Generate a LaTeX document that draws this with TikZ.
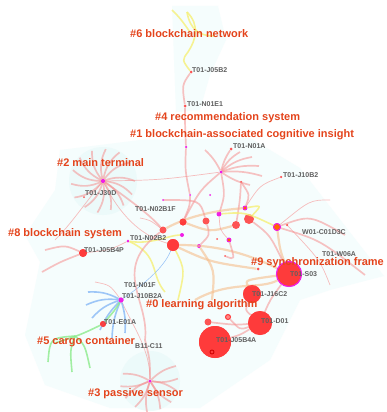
\documentclass[tikz,border=0pt]{standalone}
\usepackage{fontspec}
\setmainfont{Liberation Sans}
\definecolor{labred}{RGB}{228,68,28}
\definecolor{labgray}{RGB}{95,95,95}
\definecolor{nodered}{RGB}{255,55,55}
\definecolor{mag}{RGB}{240,30,230}
\definecolor{lpink}{RGB}{245,145,145}
\definecolor{lorange}{RGB}{245,190,140}
\definecolor{lyellow}{RGB}{245,240,120}
\definecolor{lblue}{RGB}{120,175,245}
\definecolor{lgreen}{RGB}{140,235,140}
\definecolor{bgcyan}{RGB}{245,253,253}
\definecolor{bgcyan2}{RGB}{236,250,250}
\begin{document}
\begin{tikzpicture}[x=1pt,y=-1pt,
  clab/.style={text=labred,font=\bfseries\fontsize{11}{12}\selectfont,anchor=west,inner sep=0},
  nlab/.style={text=labgray,font=\bfseries\fontsize{7}{8}\selectfont,anchor=west,inner sep=0},
  rc/.style={circle,fill=nodered,fill opacity=0.85,inner sep=0,minimum size=#1},
  rc/.default=4pt,
  mg/.style={circle,fill=mag,inner sep=0,minimum size=#1},
  mg/.default=3pt,
  ring/.style={circle,draw=mag,line width=0.9pt,fill=orange!80!red,inner sep=0,minimum size=#1},
  ring/.default=5pt,
  pk/.style={draw=lpink,line width=1.7pt,opacity=0.55},
  pkt/.style={draw=lpink,line width=0.7pt,opacity=0.6},
  og/.style={draw=lorange,line width=2.2pt,opacity=0.6},
  yl/.style={draw=lyellow,line width=1.6pt,opacity=0.8},
  bl/.style={draw=lblue,line width=1.6pt,opacity=0.7},
  gr/.style={draw=lgreen,line width=1.6pt,opacity=0.8},
  hull/.style={fill=bgcyan,draw=none}
]
\fill[white] (0,0) rectangle (386,412);
\useasboundingbox (0,0) rectangle (386,412);

% cluster hulls
\fill[hull] (172,6) -- (218,6) -- (226,40) -- (210,75) -- (200,110) -- (176,112) -- (174,60) -- cycle;
\fill[hull] (60,150) -- (140,140) -- (250,138) -- (300,168) -- (384,276) -- (330,290) -- (300,300)
  -- (270,360) -- (200,408) -- (110,408) -- (45,385) -- (25,335) -- (40,262) -- (25,235) -- (55,190) -- cycle;
\fill[bgcyan2] (103,181) circle (34pt);
\fill[bgcyan2] (150,381) circle (30pt);

% ---------- coordinates (free ends)
\coordinate (top1) at (187,12);
\coordinate (top2) at (214,36);
\coordinate (top3) at (172,10);

% ---------- nodes
\node[rc=3pt] (j05b2) at (191,72) {};
\node[rc=3pt] (n01e1) at (185,106) {};
\node[mg=2.5pt] (m1) at (186,147) {};
\node[rc=3pt] (n01a) at (231,149) {};
\node[mg=3pt] (hubA) at (221,172) {};
\node[rc=2.5pt] (j10b2) at (281,177) {};
\node[mg=4pt] (hub2) at (103,181) {};
\node[rc=2pt] (j30d) at (84,197) {};
\node[mg=2pt] (m2) at (163,200) {};
\node[mg=2pt] (m3) at (190,195) {};
\node[rc=2.5pt] (r1) at (241,182) {};
\node[ring=4pt] (m4) at (245,208) {};
\node[mg=5pt] (m5) at (219,214) {};
\node[rc=7pt] (c1) at (183,222) {};
\node[rc=7pt] (c2) at (206,221) {};
\node[rc=7pt] (c3) at (163,230) {};
\node[rc=8pt] (c4) at (236,225) {};
\node[rc=10pt] (c5) at (249,219) {};
\node[ring=7pt] (w01) at (277,227) {};
\node[rc=2.5pt] (r2) at (287,225) {};
\node[mg=4pt] (m6) at (182,235) {};
\node[rc=12pt] (c6) at (173,245) {};
\node[mg=3pt] (n02b2) at (128,241) {};
\node[mg=4pt] (m7) at (199,246) {};
\node[ring=4pt] (m8) at (229,240) {};
\node[rc=2pt] (r3) at (217,239) {};
\node[rc=2pt] (r4) at (225,256) {};
\node[rc=3pt] (r5) at (258,269) {};
\node[rc=8pt] (j05b4p) at (83,253) {};
\node[circle,fill=nodered,fill opacity=0.85,draw=mag,line width=1pt,inner sep=0,minimum size=25pt] (s03) at (289,274) {};
\node[rc=18pt] (j16c2) at (252,294) {};
\node[mg=5pt] (j10b2a) at (121,300) {};
\node[rc=6pt] (e01a) at (103,324) {};
\node[rc=24pt] (d01) at (260,323) {};
\node[rc=7pt] (r6) at (208,322) {};
\node[circle,draw=nodered,line width=1pt,fill=nodered!60,inner sep=0,minimum size=5pt] (r7) at (228,317) {};
\node[rc=32pt] (j05b4a) at (215,342) {};
\node[circle,draw=red!80!black,line width=0.8pt,inner sep=0,minimum size=4pt] (r8) at (212,352) {};
\node[mg=3pt] (hub3) at (150,381) {};
\node[mg=2pt] (m9) at (210,195) {};

% ---------- #6 yellow
\draw[yl] (top1) .. controls (200,25) and (196,40) .. (188,52) .. controls (182,60) .. (j05b2);
\draw[yl] (top1) .. controls (190,30) and (200,36) .. (top2);
\draw[yl] (top3) .. controls (180,18) .. (190,32);
% top pink spine
\draw[pk] (j05b2) .. controls (182,85) .. (n01e1);
\draw[pk] (n01e1) .. controls (185,125) .. (m1);
\draw[pk] (m1) .. controls (185,170) .. (m3);
\draw[pk] (m3) .. controls (190,205) .. (c1);
% hub A spokes
\foreach \e/\b in {n01a/10, {240,152}/15, {252,157}/15, {259,166}/12, {262,176}/10, {205,150}/-10, {250,185}/-10}
  \draw[pk] (hubA) to[bend left=\b] (\e);
\draw[pk] (hubA) .. controls (200,190) .. (c1);
\draw[pkt] (hubA) .. controls (160,180) .. (hub2);
% J10B2
\draw[pkt] (j10b2) .. controls (260,185) .. (m4);
\draw[pk] (r1) .. controls (250,195) .. (m4);
% hub #2 spokes
\foreach \a/\l/\b in {0/32/20, 25/32/20, 50/32/20, 75/30/20, 100/32/20, 125/32/20, 150/33/20, 175/32/20, 200/32/20, 225/33/20, 250/32/20, 275/32/20, 300/33/20, 325/32/20}
  \draw[pk] (hub2) to[bend left=\b] ++(\a:\l);
\draw[pk] (hub2) .. controls (130,200) and (150,215) .. (c3);
\draw[pkt] (hub2) .. controls (120,215) and (140,235) .. (c6);
\draw[pkt] (hub2) .. controls (80,210) and (70,225) .. (55,240);
% J05B4P
\draw[pk] (j05b4p) .. controls (65,245) .. (45,250);
\draw[pk] (j05b4p) .. controls (60,262) .. (42,272);
\draw[pkt] (j05b4p) .. controls (110,250) .. (n02b2);
% center links
\draw[og] (c3) .. controls (190,215) and (220,210) .. (m4);
\draw[og] (c6) .. controls (220,245) and (250,255) .. (s03);
\draw[og] (c6) .. controls (210,262) .. (r5);
\draw[og] (c1) .. controls (210,232) .. (c4);
\draw[og] (s03) .. controls (260,290) and (230,280) .. (195,300);
\draw[og] (m7) .. controls (215,270) .. (212,300);
\draw[og] (s03) .. controls (280,250) .. (w01);
\draw[pk] (c5) .. controls (270,235) .. (s03);
\draw[pk] (c2) .. controls (200,200) .. (m2);
\draw[pk] (c4) .. controls (240,200) .. (r1);
\draw[pk] (m5) .. controls (225,195) .. (hubA);
\draw[yl] (m5) .. controls (245,212) .. (w01);
\draw[yl] (c5) .. controls (262,205) .. (m4);
\draw[yl] (n02b2) .. controls (150,245) and (170,235) .. (m6);
\draw[yl] (n02b2) .. controls (160,255) and (150,275) .. (165,292);
\draw[yl] (c6) .. controls (185,270) .. (178,300);
\draw[pk] (m7) .. controls (210,235) .. (c2);
\draw[pk] (m8) .. controls (235,260) .. (r4);
\draw[pkt] (m8) .. controls (220,230) .. (m5);
\draw[pkt] (c3) .. controls (150,220) .. (140,218);
\draw[draw=lblue,line width=0.5pt,opacity=0.8] (j10b2a) .. controls (150,280) and (165,265) .. (c6);
% W01 arcs
\draw[pk] (w01) .. controls (310,215) .. (345,235);
\draw[pk] (w01) .. controls (320,240) .. (365,275);
\draw[pkt] (w01) .. controls (310,200) .. (330,200);
\draw[pkt] (r2) .. controls (320,260) .. (330,285);
% right side to J16C2 / D01
\draw[pk] (s03) .. controls (270,300) .. (d01);
\draw[pk] (j16c2) .. controls (245,310) .. (d01);
\draw[og] (s03) .. controls (245,280) .. (j16c2);
\draw[pk] (d01) .. controls (235,325) .. (r6);
\draw[pk] (r7) .. controls (240,330) .. (d01);
\draw[pk] (j05b4a) .. controls (240,335) .. (d01);
% lower left / #0
\draw[pk] (c3) .. controls (110,270) and (150,300) .. (145,340);
\draw[pk] (145,340) .. controls (150,360) .. (hub3);
\draw[pkt] (j10b2a) .. controls (135,330) and (150,350) .. (hub3);
\draw[pkt] (j10b2a) .. controls (110,285) .. (95,282);
% blue fan
\foreach \e/\b in {{88,292}/15, {86,305}/15, {92,318}/15, {100,330}/10, {112,338}/10, {125,333}/-10}
  \draw[bl] (j10b2a) to[bend right=\b] (\e);
% green
\draw[gr] (j10b2a) .. controls (115,310) .. (e01a);
\draw[gr] (e01a) .. controls (80,335) .. (55,343);
\draw[gr] (75,336) .. controls (50,338) .. (48,362);
\draw[gr] (75,336) .. controls (70,350) .. (72,372);
\draw[gr] (75,336) .. controls (85,345) .. (90,368);
% hub #3 spokes
\foreach \a/\l/\b in {-30/30/15, -5/28/-15, 20/28/15, 45/30/-15, 70/30/15, 95/32/-15, 120/30/15, 145/30/-15, 170/30/15, 195/28/-15}
  \draw[pk] (hub3) to[bend left=\b] ++(\a:\l);

% redraw larger nodes on top of links
\node[rc=7pt] at (c1) {};
\node[rc=12pt] at (c6) {};
\node[ring=7pt] at (w01) {};
\node[circle,fill=nodered,fill opacity=0.85,draw=mag,line width=1pt,inner sep=0,minimum size=25pt] at (s03) {};
\node[rc=18pt] at (j16c2) {};
\node[rc=24pt] at (d01) {};
\node[rc=32pt] at (j05b4a) {};
\node[circle,draw=red!80!black,line width=0.8pt,inner sep=0,minimum size=4pt] at (r8) {};
\node[mg=5pt] at (j10b2a) {};
\node[mg=4pt] at (hub2) {};
\node[mg=3pt] at (hub3) {};
\node[mg=3pt] at (hubA) {};
\node[rc=6pt] at (e01a) {};
\node[rc=8pt] at (j05b4p) {};

% ---------- node labels
\node[nlab] (l1) at (192,70) {T01-J05B2};
\node[nlab] (l2) at (187,104) {T01-N01E1};
\node[nlab] (l3) at (233,146) {T01-N01A};
\node[nlab] (l4) at (283,175) {T01-J10B2};
\node[nlab] (l5) at (85,193) {T01-J30D};
\node[nlab] (l6) at (135,209) {T01-N02B1F};
\node[nlab] (l7) at (130,238) {T01-N02B2};
\node[nlab] (l8) at (84,250) {T01-J05B4P};
\node[nlab] (l9) at (302,232) {W01-C01D3C};
\node[nlab] (l10) at (322,254) {T01-W06A};
\node[nlab] (l11) at (290,274) {T01-S03};
\node[nlab] (l12) at (124,285) {T01-N01F};
\node[nlab] (l13) at (122,296) {T01-J10B2A};
\node[nlab] (l14) at (104,322) {T01-E01A};
\node[nlab] (l15) at (135,346) {B11-C11};
\node[nlab] (l16) at (252,294) {T01-J16C2};
\node[nlab] (l17) at (261,321) {T01-D01};
\node[nlab] (l18) at (216,340) {T01-J05B4A};

% ---------- cluster labels
\node[clab] (k6) at (130,34) {\#6 blockchain network};
\node[clab] (k4) at (155,118) {\#4 recommendation system};
\node[clab] (k1) at (130,135) {\#1 blockchain-associated cognitive insight};
\node[clab] (k2) at (57,163) {\#2 main terminal};
\node[clab] (k8) at (8,234) {\#8 blockchain system};
\node[clab] (k9) at (251,263) {\#9 synchronization frame};
\node[clab] (k0) at (146,305) {\#0 learning algorithm};
\node[clab] (k5) at (37,342) {\#5 cargo container};
\node[clab] (k3) at (88,394) {\#3 passive sensor};
\end{tikzpicture}
\end{document}
